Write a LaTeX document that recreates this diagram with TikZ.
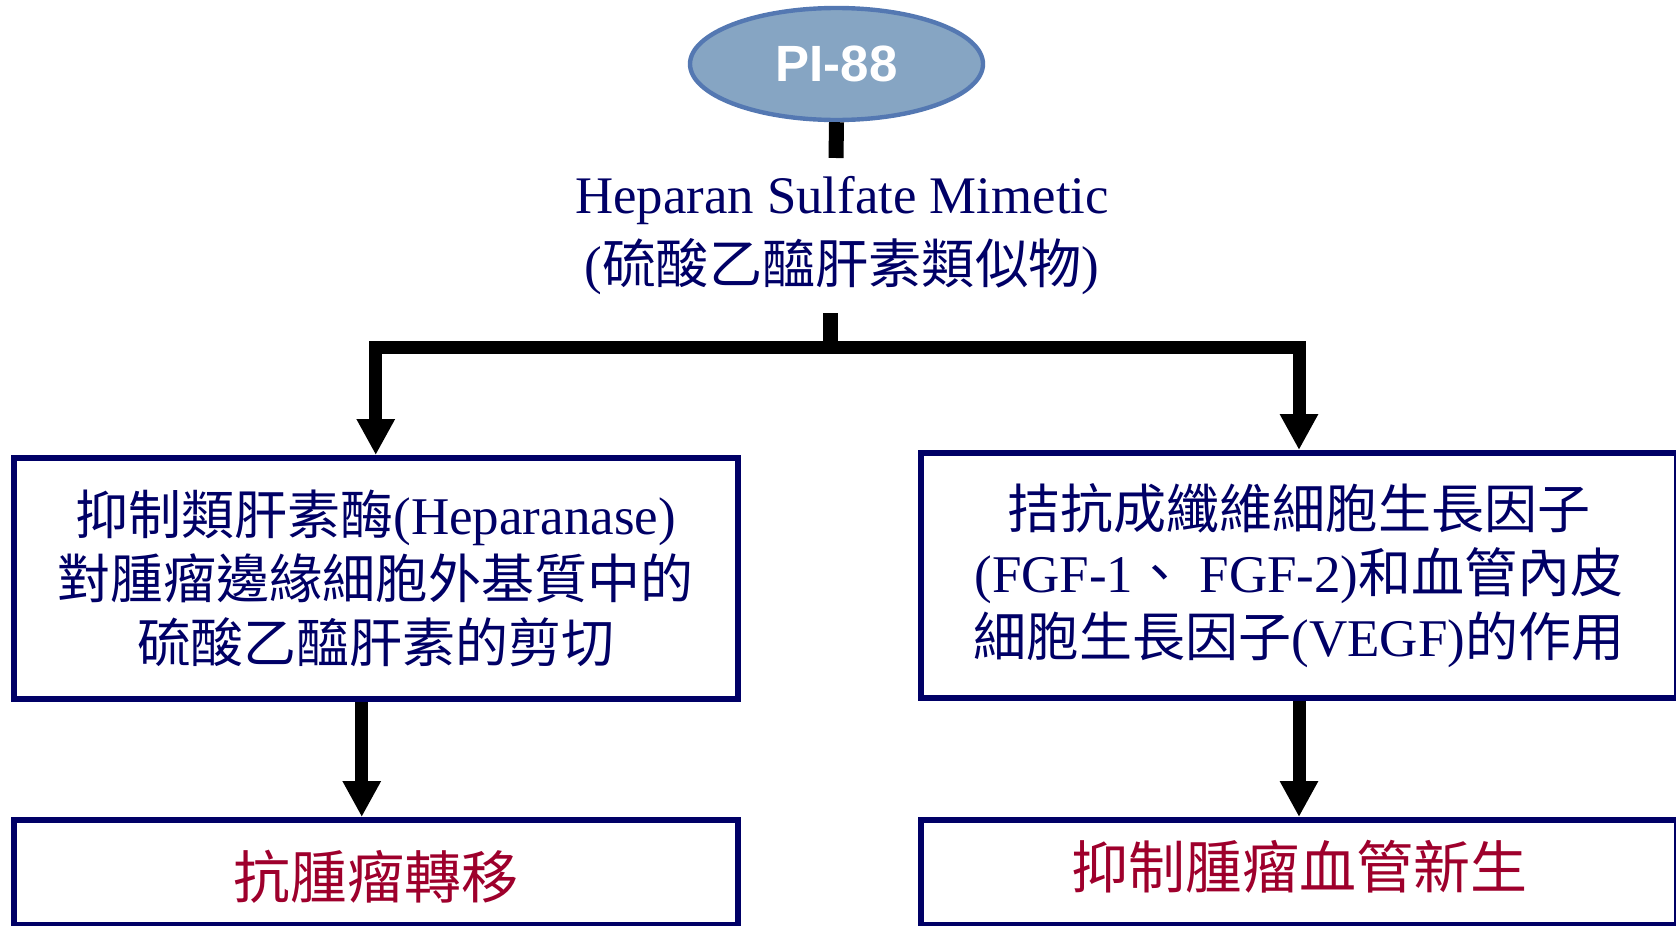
\documentclass[tikz,border=0pt]{standalone}
\usepackage{fontspec}
\setmainfont{Liberation Serif}
\newfontfamily\cjk{Noto Sans CJK TC}
\newfontfamily\arialfont{Liberation Sans}
\usetikzlibrary{arrows.meta,shapes.geometric}
\definecolor{navy}{RGB}{0,0,102}
\definecolor{darkred}{RGB}{158,0,44}
\definecolor{ellfill}{RGB}{134,165,195}
\definecolor{elldraw}{RGB}{84,120,178}
\begin{document}
\begin{tikzpicture}[x=0.5pt,y=-0.5pt,
  box/.style={draw=navy, line width=3pt, rectangle, inner sep=0pt, align=center, text=navy,
    font=\fontsize{26.5pt}{32pt}\selectfont},
  resbox/.style={box, text=darkred, font=\fontsize{28.5pt}{32pt}\selectfont},
  conn/.style={draw=black, line width=6.5pt},
  stub/.style={draw=black, line width=7.5pt},
  tip/.style={-{Triangle[width=18pt,length=18pt]}},
  label/.style={anchor=base, text=navy, inner sep=0pt, font=\fontsize{26.4pt}{30pt}\selectfont},
]
\useasboundingbox (0,0) rectangle (1676,926);
\clip (0,0) rectangle (1676,926);

\node[ellipse, fill=ellfill, draw=elldraw, line width=2.2pt, minimum width=146.5pt,
  minimum height=56pt, inner sep=0pt, text=white,
  font=\arialfont\bfseries\fontsize{25.5pt}{30pt}\selectfont] (pi) at (836.5,64) {PI-88};

\node[label] (mim1) at (842,213) {Heparan Sulfate Mimetic};
\node[label, font=\fontsize{26.6pt}{30pt}\selectfont] (mim2) at (842,283) {({\cjk 硫酸乙醯肝素類似物})};

\coordinate (mimtop) at (836,158);
\coordinate (mimbot) at (830,313);
\coordinate (bar) at (830,347.5);

\node[box, minimum width=362.25pt, minimum height=120.5pt] (b1) at (375.75,578.5)
  {{\cjk 抑制類肝素酶}(Heparanase)\\{\cjk 對腫瘤邊緣細胞外基質中的}\\{\cjk 硫酸乙醯肝素的剪切}};
\node[box, minimum width=378pt, minimum height=122.5pt] (b2) at (1299,575.5)
  {{\cjk 拮抗成纖維細胞生長因子}\\(FGF-1{\cjk 、} FGF-2){\cjk 和血管內皮}\\{\cjk 細胞生長因子}(VEGF){\cjk 的作用}};
\node[resbox, minimum width=362.25pt, minimum height=52.5pt] (b3) at (375.75,872.5)
  {\raisebox{-2pt}[0.88em][0.12em]{\cjk 抗腫瘤轉移}};
\node[resbox, minimum width=378pt, minimum height=52.5pt] (b4) at (1299,872.5)
  {\raisebox{3pt}[0.88em][0.12em]{\cjk 抑制腫瘤血管新生}};

\draw[stub] (pi.south) -- (mimtop);
\draw[stub] (mimbot) -- (bar);
\draw[conn, tip] (bar) -| (b1.north);
\draw[conn, tip] (bar) -| (b2.north);
\draw[conn, tip] ([xshift=-7pt]b1.south) -- ([xshift=-7pt]b3.north);
\draw[conn, tip] (b2.south) -- (b4.north);
\end{tikzpicture}
\end{document}
